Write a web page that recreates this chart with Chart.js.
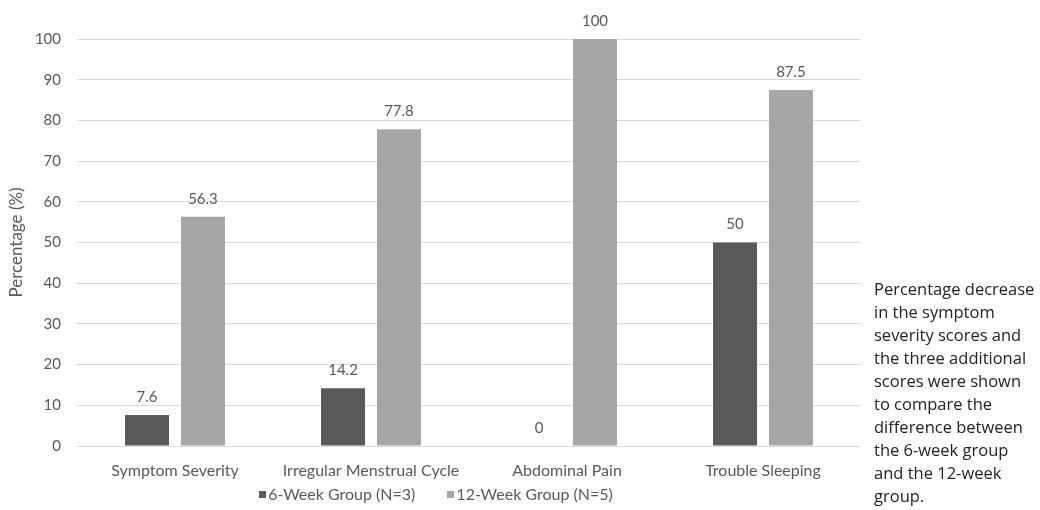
<!DOCTYPE html>
<html>
<head>
<meta charset="utf-8">
<script src="https://cdn.jsdelivr.net/npm/chart.js@4.4.1/dist/chart.umd.min.js"></script>
<style>
  html, body { margin: 0; padding: 0; background: #ffffff; }
  #wrap { position: relative; width: 1040px; height: 510px; overflow: hidden; }
  #chart { position: absolute; left: 0; top: 0; }
  #legend {
    position: absolute; left: 0; width: 872px; top: 485px; height: 18px;
    display: flex; justify-content: center; gap: 32px;
    font-family: Lato, sans-serif; font-size: 16px; color: #595959; line-height: 18px;
  }
  #legend .item { display: flex; align-items: center; }
  #legend .box { width: 7px; height: 7px; margin-right: 2px; }
  #note {
    position: absolute; left: 874px; top: 277px; width: 163px;
    font-family: "Open Sans", sans-serif; font-size: 16.5px; line-height: 23px; color: #222222;
  }
</style>
</head>
<body>
<div id="wrap">
  <canvas id="chart" width="1040" height="510"></canvas>
  <div id="legend"></div>
  <div id="note">Percentage decrease in the symptom severity scores and the three additional scores were shown to compare the difference between the 6-week group and the 12-week group.</div>
</div>
<script>
// Categories and series (percentage decrease)
const categories = ['Symptom Severity', 'Irregular Menstrual Cycle', 'Abdominal Pain', 'Trouble Sleeping'];
const sixWeek = [7.6, 14.2, 0, 50];
const twelveWeek = [56.3, 77.8, 100, 87.5];
const seriesNames = ['6-Week Group (N=3)', '12-Week Group (N=5)'];
const yTicks = [0, 10, 20, 30, 40, 50, 60, 70, 80, 90, 100];

const textGrey = '#595959';

// Writes each bar's value above it
const valueLabels = {
  id: 'valueLabels',
  afterDatasetsDraw(chart) {
    const ctx = chart.ctx;
    ctx.save();
    ctx.font = '15px Lato, sans-serif';
    ctx.fillStyle = textGrey;
    ctx.textAlign = 'center';
    ctx.textBaseline = 'middle';
    chart.data.datasets.forEach((ds, i) => {
      chart.getDatasetMeta(i).data.forEach((bar, j) => {
        ctx.fillText(String(ds.data[j]), bar.x, bar.y - 18);
      });
    });
    ctx.restore();
  }
};

const chart = new Chart(document.getElementById('chart'), {
  type: 'bar',
  data: {
    labels: categories,
    datasets: [
      { label: seriesNames[0], data: sixWeek, backgroundColor: '#595959' },
      { label: seriesNames[1], data: twelveWeek, backgroundColor: '#a6a6a6' }
    ]
  },
  options: {
    responsive: false,
    animation: false,
    layout: { padding: { top: 39, right: 179, bottom: 0, left: 0 } },
    categoryPercentage: 0.571,
    barPercentage: 0.786,
    plugins: {
      legend: { display: false },
      tooltip: { enabled: false }
    },
    scales: {
      x: {
        grid: { display: false, drawTicks: false },
        border: { display: false },
        ticks: { color: textGrey, font: { family: 'Lato', size: 16 }, padding: 15, maxRotation: 0 },
        afterFit(scale) { scale.height = 64; }
      },
      y: {
        min: 0, max: 100,
        afterBuildTicks(scale) { scale.ticks = yTicks.map(v => ({ value: v })); },
        grid: { color: '#d9d9d9', lineWidth: 1, drawTicks: false },
        border: { display: false },
        ticks: { color: textGrey, font: { family: 'Lato', size: 15 }, padding: 16 },
        title: {
          display: true, text: 'Percentage (%)', color: textGrey,
          font: { family: 'Lato', size: 17 }, padding: { top: 6, bottom: 0 }
        },
        afterFit(scale) { scale.width = 77; }
      }
    }
  },
  plugins: [valueLabels]
});

// Legend built from the chart's datasets
const legendEl = document.getElementById('legend');
chart.data.datasets.forEach(ds => {
  const item = document.createElement('div');
  item.className = 'item';
  const box = document.createElement('span');
  box.className = 'box';
  box.style.background = ds.backgroundColor;
  const txt = document.createElement('span');
  txt.textContent = ds.label;
  item.appendChild(box);
  item.appendChild(txt);
  legendEl.appendChild(item);
});
</script>
</body>
</html>
